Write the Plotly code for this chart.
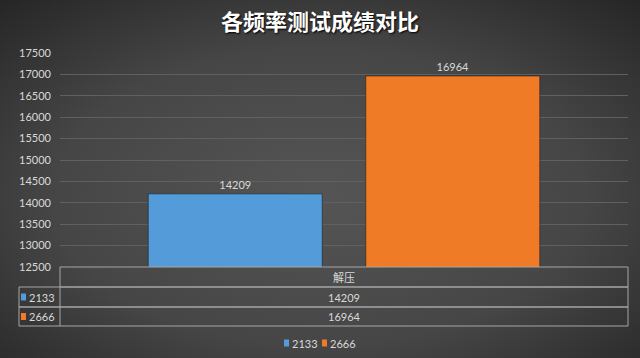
import plotly.graph_objects as go
import base64

# ---- data ----
categories = ["解压"]
series_names = ["2133", "2666"]
values_2133 = [14209]
values_2666 = [16964]
series_values = [values_2133, values_2666]
series_colors = ["#549bda", "#ef7b26"]
y_range = [12500, 17500]
y_tick_step = 500
title_text = "各频率测试成绩对比"

W, H = 640, 358
ML, MR, MT, MB = 60, 12, 53, 91
PW, PH = W - ML - MR, H - MT - MB

def px_x(x):
    return (x - ML) / PW

def px_y(y):
    return (H - MB - y) / PH

FONT = "Lato, 'Noto Sans CJK SC', sans-serif"
TXT = "#d9d9d9"

fig = go.Figure()
for name, vals, col in zip(series_names, series_values, series_colors):
    fig.add_trace(go.Bar(
        x=categories, y=vals, name=name,
        marker=dict(color=col, line=dict(color="rgba(30,30,30,0.6)", width=1)),
        text=[str(v) for v in vals], textposition="outside",
        textfont=dict(color=TXT, size=11, family=FONT),
        cliponaxis=False, showlegend=False, hoverinfo="skip",
    ))

# background radial gradient (svg)
svg = ('<svg xmlns="http://www.w3.org/2000/svg" width="640" height="358">'
       '<defs><radialGradient id="g" cx="50%" cy="55%" r="75%" fx="50%" fy="55%">'
       '<stop offset="0%" stop-color="#555555"/><stop offset="55%" stop-color="#464646"/>'
       '<stop offset="100%" stop-color="#252525"/></radialGradient></defs>'
       '<rect width="640" height="358" fill="url(#g)"/></svg>')
src = "data:image/svg+xml;base64," + base64.b64encode(svg.encode()).decode()

shapes = []
line_col = "#a6a6a6"
annotations = []
# data table
row_tops = [267, 287, 307, 326]
tx_left, tx_div, tx_right = 19, 60, 628
shapes.append(dict(type="rect", xref="paper", yref="paper",
                   x0=px_x(tx_div), x1=px_x(tx_right), y0=px_y(row_tops[1]), y1=px_y(row_tops[0]),
                   line=dict(color=line_col, width=1)))
annotations.append(dict(text=categories[0], xref="paper", yref="paper",
                        x=px_x((tx_div + tx_right) / 2), y=px_y((row_tops[0] + row_tops[1]) / 2),
                        xanchor="center", yanchor="middle",
                        showarrow=False, font=dict(color=TXT, size=11, family=FONT)))
for i, (name, vals, col) in enumerate(zip(series_names, series_values, series_colors)):
    t, b = row_tops[i + 1], row_tops[i + 2]
    shapes.append(dict(type="rect", xref="paper", yref="paper",
                       x0=px_x(tx_left), x1=px_x(tx_right), y0=px_y(b), y1=px_y(t),
                       line=dict(color=line_col, width=1)))
    shapes.append(dict(type="line", xref="paper", yref="paper",
                       x0=px_x(tx_div), x1=px_x(tx_div), y0=px_y(b), y1=px_y(t),
                       line=dict(color=line_col, width=1)))
    cy = (t + b) / 2
    shapes.append(dict(type="rect", xref="paper", yref="paper",
                       x0=px_x(21), x1=px_x(26), y0=px_y(cy + 3.5), y1=px_y(cy - 3.5),
                       fillcolor=col, line=dict(width=0)))
    annotations.append(dict(text=name, xref="paper", yref="paper", x=px_x(27), y=px_y(cy),
                            xanchor="left", yanchor="middle", showarrow=False,
                            font=dict(color=TXT, size=11, family=FONT)))
    annotations.append(dict(text=str(vals[0]), xref="paper", yref="paper",
                            x=px_x((tx_div + tx_right) / 2), y=px_y(cy),
                            xanchor="center", yanchor="middle",
                            showarrow=False, font=dict(color=TXT, size=11, family=FONT)))

# legend (bottom, centered)
leg_y = 343
leg_x = [284, 322]
for lx, name, col in zip(leg_x, series_names, series_colors):
    shapes.append(dict(type="rect", xref="paper", yref="paper",
                       x0=px_x(lx), x1=px_x(lx + 5), y0=px_y(leg_y + 3.5), y1=px_y(leg_y - 3.5),
                       fillcolor=col, line=dict(width=0)))
    annotations.append(dict(text=name, xref="paper", yref="paper", x=px_x(lx + 6), y=px_y(leg_y),
                            xanchor="left", yanchor="middle", showarrow=False,
                            font=dict(color=TXT, size=11, family=FONT)))

fig.update_layout(
    width=W, height=H,
    margin=dict(l=ML, r=MR, t=MT, b=MB, pad=0, autoexpand=False),
    paper_bgcolor="#383838", plot_bgcolor="rgba(0,0,0,0)",
    title=dict(text="<b>" + title_text + "</b>", x=0.5, xref="container", xanchor="center",
               y=1 - 22 / H, yref="container", yanchor="middle",
               font=dict(color="#ffffff", size=22, family="'Noto Sans CJK SC', sans-serif",
                         shadow="1px 1px 2px #000")),
    barmode="group", bargap=0.234, bargroupgap=0.2,
    xaxis=dict(showticklabels=False, showgrid=False, zeroline=False, showline=False,
               automargin=False),
    yaxis=dict(range=y_range, dtick=y_tick_step, tick0=y_range[0], tickformat="d",
               showgrid=True, gridcolor="#606060", gridwidth=1, zeroline=False,
               showline=False, ticks="", tickfont=dict(color=TXT, size=11, family=FONT),
               ticklabelstandoff=8, automargin=False),
    showlegend=False,
    shapes=shapes, annotations=annotations,
    images=[dict(source=src, xref="paper", yref="paper", x=px_x(0), y=px_y(0),
                 sizex=W / PW, sizey=H / PH, sizing="stretch", layer="below",
                 xanchor="left", yanchor="top")],
)

fig.write_html("out.html", config={"displayModeBar": False},
               post_script="document.body.style.margin='0px';")
